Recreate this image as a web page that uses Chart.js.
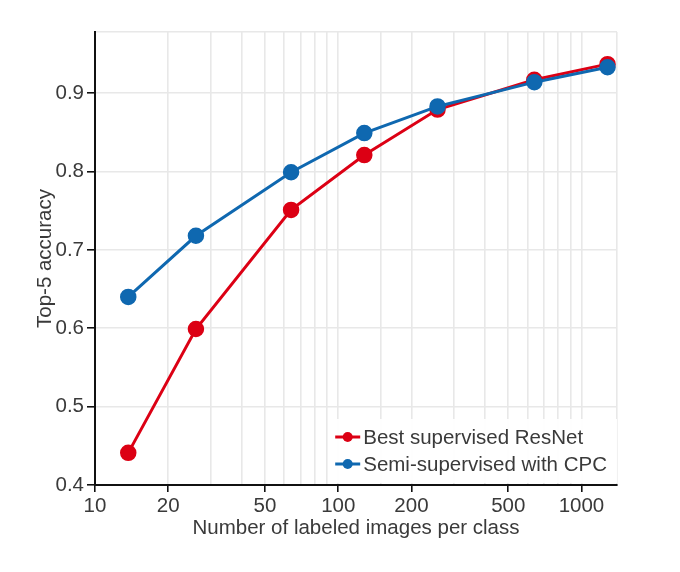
<!DOCTYPE html>
<html>
<head>
<meta charset="utf-8">
<script src="https://cdn.jsdelivr.net/npm/chart.js@4.4.1/dist/chart.umd.min.js"></script>
<style>
  html, body { margin: 0; padding: 0; background: #fff; }
  #wrap { width: 680px; height: 572px; }
</style>
</head>
<body>
<div id="wrap"><canvas id="chart" width="680" height="572"></canvas></div>
<script>
// values
var imagesPerClass = [13.7, 26, 64, 128, 256, 640, 1280];
var supervisedAcc = [0.441, 0.599, 0.751, 0.821, 0.879, 0.917, 0.937];
var cpcAcc = [0.640, 0.718, 0.799, 0.849, 0.883, 0.914, 0.933];
var seriesNames = ['Best supervised ResNet', 'Semi-supervised with CPC'];
var xTickLabels = [10, 20, 50, 100, 200, 500, 1000];
var yTickLabels = [0.4, 0.5, 0.6, 0.7, 0.8, 0.9];

var RED = '#dc0014';
var BLUE = '#0f68b0';
var FONT = "'Liberation Sans', Arial, Helvetica, sans-serif";
var TEXT = '#3a3a3a';

function points(ys) {
	return imagesPerClass.map(function (x, i) { return { x: x, y: ys[i] }; });
}

function isXLabel(v) { return xTickLabels.indexOf(Math.round(v)) >= 0 && Math.abs(v - Math.round(v)) < 1e-6; }
function isYLabel(v) {
	for (var i = 0; i < yTickLabels.length; i++) { if (Math.abs(v - yTickLabels[i]) < 1e-6) return true; }
	return false;
}

// legend drawn inside the plot, bottom right, with line + dot samples
var insideLegend = {
	id: 'insideLegend',
	afterDraw: function (chart) {
		var ctx = chart.ctx;
		var area = chart.chartArea;
		var colors = [RED, BLUE];
		ctx.save();
		ctx.font = '20.5px ' + FONT;
		var w = 0;
		seriesNames.forEach(function (n) { w = Math.max(w, ctx.measureText(n).width); });
		var boxW = w + 40, boxH = 64;
		var bx = area.right - boxW, by = area.bottom - 2 - boxH;
		ctx.fillStyle = 'rgba(255,255,255,0.95)';
		ctx.fillRect(bx, by, boxW, boxH);
		seriesNames.forEach(function (n, i) {
			var cy = by + 18 + i * 27;
			ctx.strokeStyle = colors[i];
			ctx.lineWidth = 3;
			ctx.beginPath();
			ctx.moveTo(bx + 2, cy);
			ctx.lineTo(bx + 27, cy);
			ctx.stroke();
			ctx.fillStyle = colors[i];
			ctx.beginPath();
			ctx.arc(bx + 14.5, cy, 5, 0, Math.PI * 2);
			ctx.fill();
			ctx.fillStyle = TEXT;
			ctx.textBaseline = 'middle';
			ctx.fillText(n, bx + 30, cy + 1);
		});
		ctx.restore();
	}
};

new Chart(document.getElementById('chart'), {
	type: 'line',
	data: {
		datasets: [{
			label: seriesNames[0],
			data: points(supervisedAcc),
			borderColor: RED,
			backgroundColor: RED,
			pointBackgroundColor: RED,
			order: 1
		}, {
			label: seriesNames[1],
			data: points(cpcAcc),
			borderColor: BLUE,
			backgroundColor: BLUE,
			pointBackgroundColor: BLUE,
			order: 0
		}]
	},
	options: {
		responsive: false,
		animation: false,
		layout: { padding: { top: 32, right: 63, left: 0, bottom: 0 } },
		elements: {
			line: { borderWidth: 3, tension: 0 },
			point: { radius: 7.5, borderColor: '#fff', borderWidth: 1.5 }
		},
		plugins: {
			legend: { display: false },
			tooltip: { enabled: false }
		},
		scales: {
			x: {
				type: 'logarithmic',
				min: 10,
				max: 1400,
				afterFit: function (s) { s.height = 87; },
				border: { color: '#111', width: 2 },
				grid: {
					color: '#e8e8e8',
					lineWidth: 1.6,
					tickLength: 7,
					tickColor: function (c) { return c.tick && isXLabel(c.tick.value) ? '#111' : 'rgba(0,0,0,0)'; },
					tickWidth: 1.6
				},
				ticks: {
					autoSkip: false,
					maxRotation: 0,
					padding: 2,
					color: TEXT,
					font: { family: FONT, size: 20.5 },
					callback: function (v) { return isXLabel(v) ? String(Math.round(v)) : ''; }
				},
				title: {
					display: true,
					text: 'Number of labeled images per class',
					color: TEXT,
					font: { family: FONT, size: 20.5 },
					padding: { top: 0, bottom: 31 }
				}
			},
			y: {
				min: 0.4,
				max: 0.978,
				afterFit: function (s) { s.width = 95; },
				border: { color: '#111', width: 2 },
				grid: {
					color: '#e8e8e8',
					lineWidth: 1.6,
					tickLength: 8,
					tickColor: function (c) { return c.tick && isYLabel(c.tick.value) ? '#111' : 'rgba(0,0,0,0)'; },
					tickWidth: 1.6
				},
				ticks: {
					stepSize: 0.1,
					padding: 3,
					color: TEXT,
					font: { family: FONT, size: 20.5 },
					callback: function (v) { return isYLabel(v) ? v.toFixed(1) : ''; }
				},
				title: {
					display: true,
					text: 'Top-5 accuracy',
					color: TEXT,
					font: { family: FONT, size: 20.5 },
					padding: { top: 33, bottom: 0 }
				}
			}
		}
	},
	plugins: [insideLegend]
});
</script>
</body>
</html>
